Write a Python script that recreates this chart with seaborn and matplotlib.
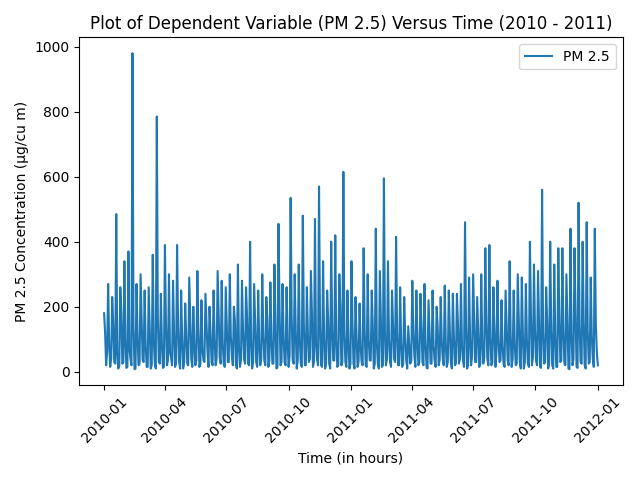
import numpy as np
import pandas as pd
import matplotlib
matplotlib.use("Agg")
import matplotlib.pyplot as plt
import seaborn as sns

# Peak values read roughly every 6 days, troughs and mid-level values between them
peaks = [180,270,230,485,260,340,370,980,270,300,
         250,260,360,785,240,390,300,280,390,250,
         210,290,200,310,220,240,200,250,310,280,
         260,300,200,330,280,260,400,270,250,300,
         230,275,330,455,270,260,535,300,330,480,
         260,310,470,570,340,250,400,420,300,615,
         250,340,230,210,380,300,250,440,310,595,
         340,250,415,260,230,140,280,250,240,270,
         220,250,200,230,265,250,240,240,270,460,
         290,300,230,300,380,390,260,280,220,250,
         340,250,300,290,270,400,330,310,560,260,
         400,330,380,380,300,440,380,520,400,460,
         290,440]
mids = [120,90,150,60,180,100,70,140,110,160,
        80,130,100,170,90,150,60,120,140,100,
        110,160,90,130,70,150,120,100,180,90,
        140,110,160,80,130,170,100,150,90,120,
        160,100,140,200,110,90,170,130,100,150,
        120,180,90,140,110,160,130,100,200,120,
        90,150,110,80,130,100,140,90,160,120,
        100,150,120,90,110,80,130,100,150,90,
        120,80,140,100,90,130,110,150,80,140,
        100,160,120,90,150,110,130,100,80,140,
        110,90,160,120,100,180,130,150,120,160,
        140,110,170,130,150,120,180,140,160,130,
        110,150]
troughs = [20,15,30,10,25,12,40,8,20,35,
           15,10,25,30,12,20,45,15,30,10,
           25,40,20,15,35,60,30,20,45,25,
           30,50,20,15,40,25,10,30,20,35,
           15,25,10,20,30,15,35,10,25,20,
           30,15,40,20,10,25,35,15,20,30,
           10,25,15,30,20,35,10,25,15,20,
           30,40,20,15,35,25,50,20,30,15,
           25,35,20,40,15,30,20,25,35,10,
           20,30,15,25,40,20,15,30,25,35,
           15,20,30,10,25,20,35,15,25,10,
           20,15,30,25,10,20,15,30,20,25,
           40,60]

start = pd.Timestamp("2010-01-01")
t_peak = [start + pd.Timedelta(days=6*i) for i in range(len(peaks))]
t_mid = [start + pd.Timedelta(hours=144*i + 36) for i in range(len(mids))]
t_trough = [start + pd.Timedelta(days=6*i+3) for i in range(len(troughs))]
t_low2 = [start + pd.Timedelta(hours=144*i + 108) for i in range(len(troughs))]
low2 = troughs[::-1]
df = pd.DataFrame({"time": t_peak + t_mid + t_trough + t_low2,
                   "pm": peaks + mids + troughs + low2}).sort_values("time")

fig, ax = plt.subplots(figsize=(6.4, 4.8), dpi=100)
sns.lineplot(data=df, x="time", y="pm", ax=ax, color="#1f77b4", label="PM 2.5", linewidth=1.5)
ax.set_title("Plot of Dependent Variable (PM 2.5) Versus Time (2010 - 2011)")
ax.set_xlabel("Time (in hours)")
ax.set_ylabel("PM 2.5 Concentration (µg/cu m)")
ax.set_xticks(pd.to_datetime(["2010-01-01","2010-04-01","2010-07-01","2010-10-01",
                              "2011-01-01","2011-04-01","2011-07-01","2011-10-01","2012-01-01"]))
ax.set_xticklabels(["2010-01","2010-04","2010-07","2010-10","2011-01","2011-04",
                    "2011-07","2011-10","2012-01"], rotation=45)
ax.legend(loc="upper right")
fig.tight_layout()
fig.savefig("out.png")
